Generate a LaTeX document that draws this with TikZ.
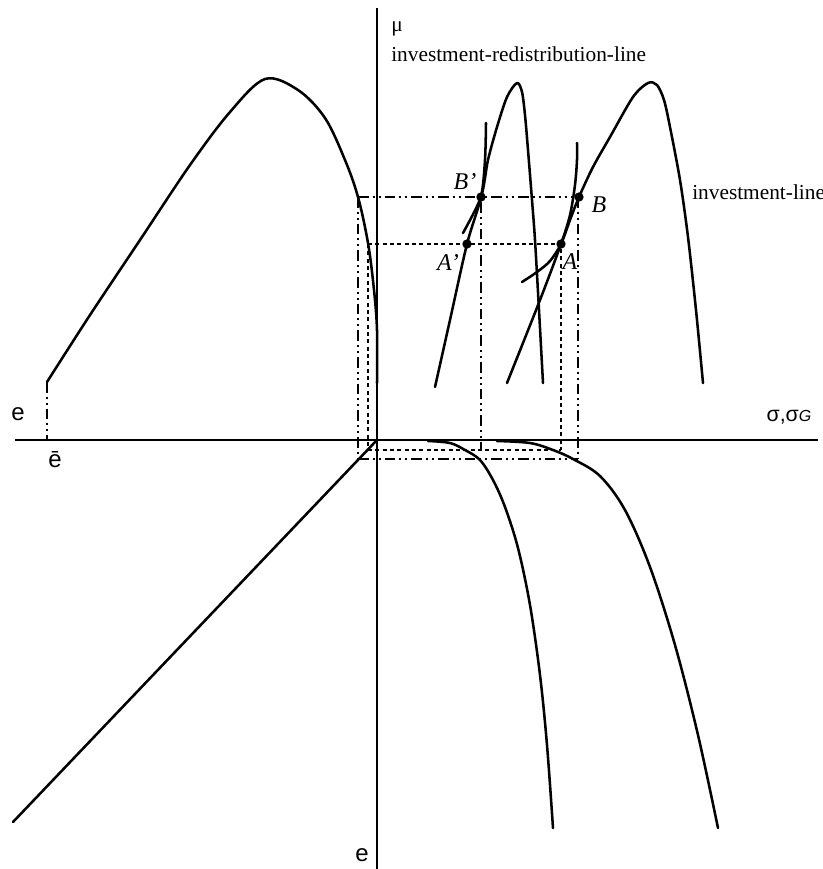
\documentclass[tikz,border=0pt]{standalone}
\usepackage{fontspec}
\setmainfont{Liberation Serif}
\newfontfamily\sansf{Liberation Sans}
\begin{document}
\begin{tikzpicture}[x=0.75pt,y=-0.75pt]
\tikzset{
 curve/.style={line width=1.9pt, line cap=round, line join=round},
 axis/.style={line width=1.1pt},
 bline/.style={line width=1.1pt, dash pattern=on 8pt off 3pt on 1.5pt off 3pt on 1.5pt off 3pt},
 aline/.style={line width=1.1pt, dash pattern=on 3pt off 2.5pt},
 pt/.style={circle, fill, inner sep=0pt, minimum size=7pt},
 lbl/.style={font=\fontsize{16}{18}\selectfont, inner sep=0pt},
 ilbl/.style={font=\fontsize{18}{20}\selectfont\itshape, inner sep=0pt},
 elbl/.style={font=\fontsize{18}{20}\selectfont\sansf, inner sep=0pt},
}
\useasboundingbox (0,0) rectangle (823,869);
% axes
\coordinate (ytop) at (377,8);
\coordinate (ybot) at (377,869);
\coordinate (xl) at (15,440);
\coordinate (xr) at (818,440);
\coordinate (O) at (377,440);
\coordinate (ll) at (13,822);
\draw[axis] (ytop) -- (ybot);
\draw[axis] (xl) -- (xr);
% 45 degree line
\draw[curve] (O) -- (ll);
% left curve
\draw[curve] plot[smooth, tension=0.55] coordinates {(47,382) (90,315) (140,240) (190,165) (230,112) (265,79) (298,90) (325,118) (345,160) (358,197) (368,243) (374,290) (377,330) (377,383)};
% lower right curves
\draw[curve] plot[smooth, tension=0.55] coordinates {(428,441) (450,443) (465,450) (480,460) (493,480) (505,507) (518,548) (530,605) (540,675) (547,745) (553,828)};
\draw[curve] plot[smooth, tension=0.55] coordinates {(497,441) (530,443) (553,450) (573,459) (600,476) (625,510) (650,567) (675,645) (698,735) (718,828)};
% investment-redistribution curve
\draw[curve] plot[smooth, tension=0.5] coordinates {(463,233) (481,197) (488,160) (497,127) (507,97) (517,83) (522,92) (525,115) (528,150) (532,200) (535,240) (539,310) (543,383)};
\draw[curve] plot[smooth, tension=0.5] coordinates {(435,387) (450,320) (467,244) (481,197) (485,160) (486,123)};
% investment curve
\draw[curve] plot[smooth, tension=0.5] coordinates {(522,282) (537,272) (550,261) (561,244) (570,220) (579,197) (593,167) (610,137) (633,97) (648,83) (657,85) (664,100) (670,127) (680,180) (688,237) (696,310) (703,383)};
\draw[curve] plot[smooth, tension=0.5] coordinates {(507,383) (540,300) (561,244) (570,215) (575,185) (577,160) (577,143)};
% points
\node[pt] (Bp) at (481,197) {};
\node[pt] (Ap) at (467,244) {};
\node[pt] (B) at (579,197) {};
\node[pt] (A) at (561,244) {};
% projection corners
\coordinate (cB) at (358,197);
\coordinate (cA) at (368,244);
\coordinate (bL) at (358,459);
\coordinate (bR) at (578,459);
\coordinate (bT) at (578,197);
\coordinate (aL) at (368,450);
\coordinate (aR) at (561,450);
\coordinate (bpD) at (481,450);
\coordinate (eT) at (47,382);
\coordinate (eB) at (47,440);
% B-lines
\draw[bline] (cB) -- (B);
\draw[bline] (cB) -- (bL);
\draw[bline] (bL) -- (bR);
\draw[bline] (bT) -- (bR);
\draw[bline] (Bp) -- (bpD);
\draw[bline] (eT) -- (eB);
% A-lines
\draw[aline] (cA) -- (A);
\draw[aline] (cA) -- (aL);
\draw[aline] (aL) -- (aR);
\draw[aline] (A) -- (aR);
% labels
\node[lbl] (mu) at (397,29) {μ};
\node[lbl, anchor=west] (irl) at (391,54) {investment-redistribution-line};
\node[lbl, anchor=west] (il) at (692,192) {investment-line};
\node[ilbl] (lBp) at (465,182) {B'};
\node[ilbl] (lAp) at (448,263) {A'};
\node[ilbl] (lB) at (599,205) {B};
\node[ilbl] (lA) at (570,262) {A};
\node[inner sep=0pt, font=\fontsize{16}{18}\selectfont\sansf] (sig) at (789,417) {σ,σ{\fontsize{12}{13}\selectfont\itshape G}};
\node[elbl] (el) at (18,414) {e};
\node[elbl] (ebar) at (55,460) {ē};
\node[elbl] (eb) at (362,855) {e};
\end{tikzpicture}
\end{document}
